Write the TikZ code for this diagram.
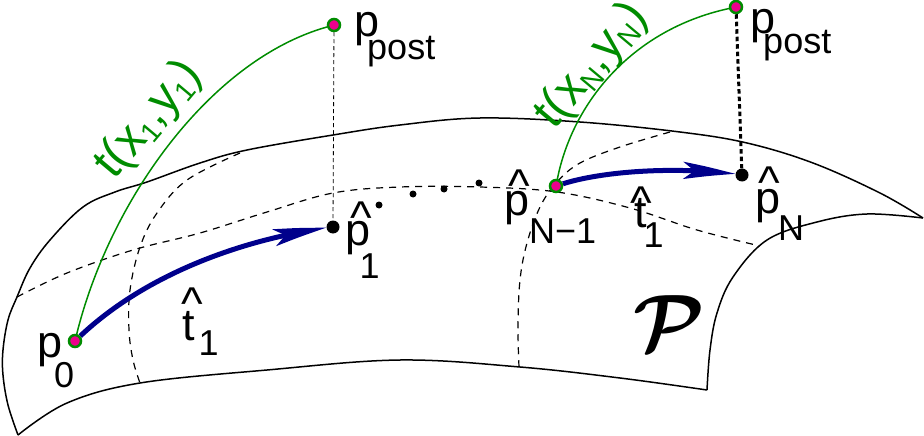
\documentclass[tikz,border=0pt]{standalone}
\usepackage{fontspec}
\usepackage{graphicx}
\setmainfont{Liberation Sans}
\usetikzlibrary{arrows.meta,bending}
\definecolor{navy}{RGB}{0,0,140}
\definecolor{gcol}{RGB}{0,140,0}
\newcommand{\lsub}[3]{\kern#1\raisebox{-#2}{\fontsize{36}{36}\selectfont #3}}
\newcommand{\gsub}[1]{\raisebox{-7pt}{\fontsize{28}{28}\selectfont #1}}
\pgfdeclarelayer{bg}
\pgfsetlayers{bg,main}
\tikzset{
  surf/.style={line width=1.5pt, black, line join=round},
  grid/.style={line width=1.2pt, black, dash pattern=on 7pt off 6pt},
  guide/.style={line width=0.8pt, black, dash pattern=on 4pt off 3pt},
  guidedot/.style={line width=3pt, black, dash pattern=on 4.5pt off 3pt},
  geod/.style={line width=1.5pt, gcol},
  steparrow/.style={line width=5pt, navy, -{Stealth[length=52pt,width=17pt,inset=11pt,bend]}},
  pgreen/.style={circle, draw=gcol, fill=magenta, line width=2.5pt, minimum size=12pt, inner sep=0pt},
  bdot/.style={circle, fill=black, minimum size=13pt, inner sep=0pt},
  sdot/.style={circle, fill=black, minimum size=7pt, inner sep=0pt},
  lab/.style={anchor=base west, inner sep=0pt, font=\fontsize{45}{45}\selectfont},
  hatl/.style={anchor=base, inner sep=0pt, font=\fontsize{46}{46}\selectfont},
  glab/.style={anchor=center, inner sep=0pt, text=gcol, font=\fontsize{48}{48}\selectfont},
}
\begin{document}
\begin{tikzpicture}[x=1pt,y=-1pt]
\useasboundingbox (0,0) rectangle (924,436);
% points
\node[pgreen] (p0) at (75,341) {};
\node[bdot] (p1) at (333,227) {};
\node[pgreen] (pN1) at (556,186) {};
\node[bdot] (pN) at (742,175) {};
\node[pgreen] (pp1) at (334,25) {};
\node[pgreen] (pp2) at (736,7) {};
\node[sdot] (d1) at (379,205) {};
\node[sdot] (d2) at (413,194) {};
\node[sdot] (d3) at (444,189) {};
\node[sdot] (d4) at (479,183) {};
\begin{pgfonlayer}{bg}
% surface outline
\draw[surf] plot[smooth, tension=0.6] coordinates {(18,435) (8,405) (3,375) (3,350) (8,320) (17,297) (30,268) (50,240) (83,207) (115,192) (147,182) (200,163) (247,150) (333,135) (400,125) (480,118) (580,122) (680,132) (747,143) (813,163) (880,193) (923,218)};
\draw[surf] plot[smooth, tension=0.6] coordinates {(923,218) (867,214) (817,222) (767,240) (733,277) (717,313) (710,350) (707,390)};
\draw[surf] plot[smooth, tension=0.6] coordinates {(707,390) (620,378) (520,367) (400,360) (267,370) (140,383) (67,403) (18,435)};
% dashed grid on the surface
\draw[grid] plot[smooth, tension=0.6] coordinates {(17,297) (67,273) (133,250) (200,233) (267,212) (333,193) (400,187) (480,187) (557,192) (630,208) (697,230) (760,246)};
\draw[grid] plot[smooth, tension=0.6] coordinates {(240,153) (187,180) (157,213) (140,247) (130,290) (129,330) (133,360) (140,383)};
\draw[grid] plot[smooth, tension=0.6] coordinates {(670,132) (620,147) (580,163) (557,182) (540,207) (527,243) (520,280) (518,327) (519,367)};
% guides
\draw[guide] (pp1) -- (p1);
\draw[guidedot] (pp2) -- (pN);
% geodesic curves
\draw[geod] (p0) .. controls (110,200) and (210,60) .. (pp1);
\draw[geod] (pN1) .. controls (572,105) and (630,30) .. (pp2);
% steps
\draw[steparrow] (p0) .. controls (145,275) and (240,240) .. (p1);
\draw[steparrow] (pN1) .. controls (600,172) and (670,166) .. (pN);
\end{pgfonlayer}
% labels
\node[lab] (lpp1) at (354,37) {p\lsub{-12pt}{23pt}{post}};
\node[lab] (lpp2) at (750,34) {p\lsub{-12pt}{20pt}{post}};
\node[lab] (lp0) at (37,357) {p\lsub{-8pt}{30pt}{0}};
\node[lab] (lp1) at (345,245) {p\lsub{-10.5pt}{33pt}{1}};
\node[hatl] (hp1) at (361,233) {\textasciicircum};
\node[lab] (lt1a) at (182,340) {t\lsub{3.8pt}{15pt}{1}};
\node[hatl] (ht1a) at (192,319) {\textasciicircum};
\node[lab] (lpN1) at (504,215) {p\lsub{0pt}{28pt}{N\char"2212 1}};
\node[hatl] (hpN1) at (519,201) {\textasciicircum};
\node[lab] (lt1b) at (634,227) {t\lsub{-3pt}{20pt}{1}};
\node[hatl] (ht1b) at (641,218) {\textasciicircum};
\node[lab] (lpN) at (755,213) {p\lsub{-2pt}{27pt}{N}};
\node[hatl] (hpN) at (769,198) {\textasciicircum};
\node[glab, rotate=50] (g1) at (149,120) {t(x\gsub{1},y\gsub{1})};
\node[glab, rotate=50] (g2) at (592,66) {t(x\gsub{N},y\gsub{N})};
\node[inner sep=0pt] (calP) at (669,323) {\scalebox{8}{\boldmath$\mathcal{P}$}};
\end{tikzpicture}
\end{document}
